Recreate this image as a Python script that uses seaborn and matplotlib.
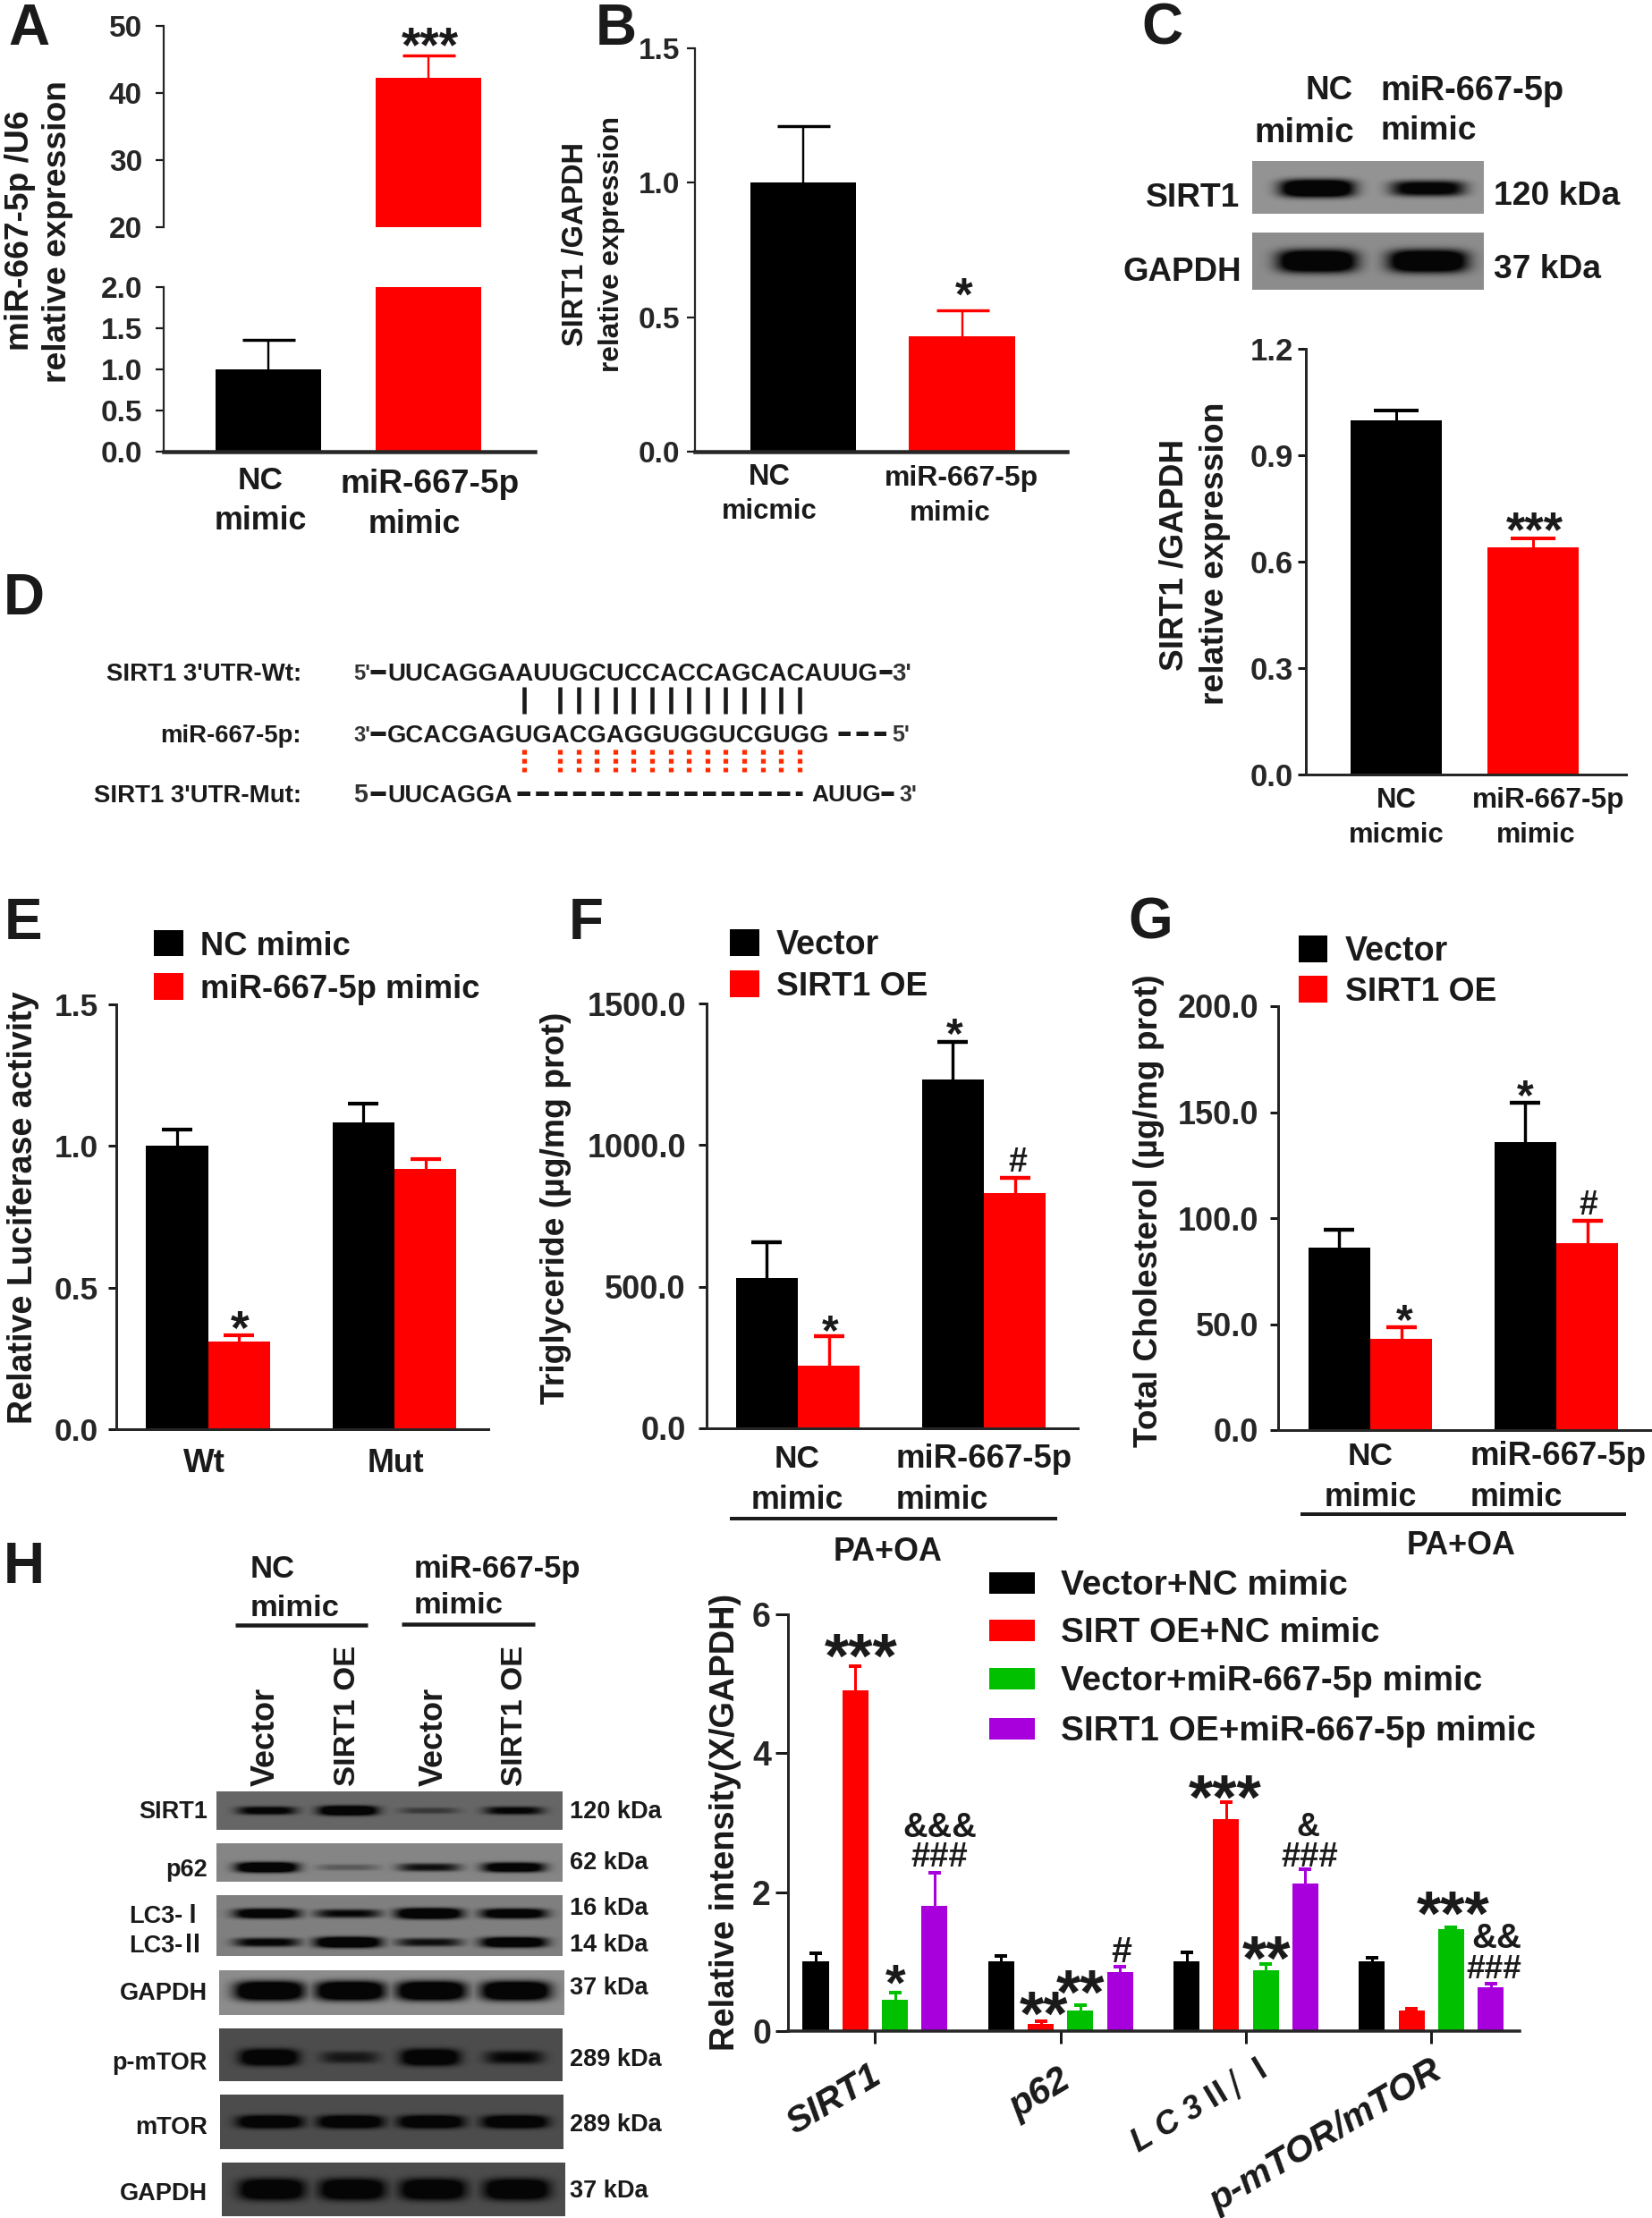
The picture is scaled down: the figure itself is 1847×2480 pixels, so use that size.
import numpy as np, pandas as pd
import matplotlib
matplotlib.use('Agg')
import matplotlib.pyplot as plt
from matplotlib.patches import Rectangle
import seaborn as sns

# ---------- data ----------
A_cats = ['NC mimic', 'miR-667-5p mimic']; A_vals = [1.0, 42.3]; A_tops = [1.36, 45.6]
B_cats = ['NC micmic', 'miR-667-5p mimic']; B_vals = [1.0, 0.43]; B_tops = [1.21, 0.525]
C_cats = ['NC micmic', 'miR-667-5p mimic']; C_vals = [0.9975, 0.641]; C_tops = [1.026, 0.666]
E_cats = ['Wt', 'Mut']; E_hues = ['NC mimic', 'miR-667-5p mimic']
E_vals = [[1.0, 1.084], [0.31, 0.919]]; E_tops = [[1.057, 1.151], [0.332, 0.955]]
FG_cats = ['NC mimic', 'miR-667-5p mimic']; FG_hues = ['Vector', 'SIRT1 OE']
F_vals = [[531, 1232], [220, 831]]; F_tops = [[657, 1365], [324, 883]]
G_vals = [[86, 135.7], [43, 88]]; G_tops = [[94.6, 154.6], [48.5, 98.9]]
H_cats = ['SIRT1', 'p62', 'LC3', 'p-mTOR/mTOR']
H_hues = ['Vector+NC mimic', 'SIRT OE+NC mimic', 'Vector+miR-667-5p mimic', 'SIRT1 OE+miR-667-5p mimic']
H_vals = [[1.0, 1.0, 1.0, 1.0], [4.9, 0.1, 3.05, 0.3], [0.45, 0.3, 0.87, 1.47], [1.8, 0.85, 2.12, 0.63]]
H_tops = [[1.12, 1.08, 1.13, 1.05], [5.25, 0.14, 3.3, 0.32], [0.55, 0.37, 0.96, 1.5], [2.28, 0.93, 2.33, 0.68]]
BLACK, RED, GREEN, PURPLE = '#000000', '#FF0000', '#00C000', '#A800DC'
# blot band strengths per lane
C_sirt1 = [1.0, 0.75]; C_gapdh = [1.0, 1.0]
H_sirt1 = [0.7, 1.0, 0.28, 0.65]; H_p62 = [0.97, 0.2, 0.55, 0.85]
H_lc1 = [0.85, 0.6, 1.0, 0.85]; H_lc2 = [0.65, 1.0, 0.55, 0.92]
H_gapdh = [1, 1, 1, 1]; H_pmtor = [1.0, 0.45, 1.0, 0.6]; H_mtor = [1, 1, 1, 1]; H_gapdh2 = [1, 1, 1, 1]

# ---------- set-up ----------
sns.set_theme(style='ticks')
FONT = ['Liberation Sans', 'Noto Sans CJK SC', 'DejaVu Sans']
CJK = ['Noto Sans CJK SC', 'DejaVu Sans']
plt.rcParams['font.family'] = FONT
plt.rcParams['font.weight'] = 'bold'
W, H = 1847, 2480
fig = plt.figure(figsize=(W / 100, H / 100), dpi=100, facecolor='white')
ov = fig.add_axes([0, 0, 1, 1], zorder=10, facecolor='none')
ov.set_axis_off(); ov.set_autoscale_on(False)
ov.set_xlim(0, W); ov.set_ylim(H, 0)
rend = fig.canvas.get_renderer()

def T(x, y, s, size=24, w=None, ha='center', rot=0, kind='cap', color='k', style='normal', family=None):
    t = ov.text(x, y, s, fontsize=size, ha=ha, va='baseline', rotation=0, rotation_mode='anchor',
                color=color, fontstyle=style, fontweight='bold', family=family or FONT)
    if w:
        size = size * w / t.get_window_extent(rend).width
        t.set_fontsize(size)
    em = size * 100 / 72
    off = (0.45 if kind == 'star' else 0.358) * em
    th = np.deg2rad(rot)
    t.set_position((x + np.sin(th) * off, y + np.cos(th) * off))
    t.set_rotation(rot)
    return t

def L(x0, x1, y0, y1, lw=3, color='k', **k):
    ov.plot([x0, x1], [y0, y1], color=color, lw=lw * 0.72, solid_capstyle='butt', **k)

def box_ax(x0, y0, x1, y1):
    return fig.add_axes([x0 / W, 1 - y1 / H, (x1 - x0) / W, (y1 - y0) / H], facecolor='none')

def style(ax, left, right, c0, step, ylim, ticks, labels, size, pad, lw=2.2, blw=None, ticklen=9, bottom=True):
    ax.set_xlim((left - c0) / step, (right - c0) / step)
    ax.set_ylim(*ylim)
    ax.set_yticks(ticks); ax.set_yticklabels(labels)
    ax.tick_params(axis='y', length=ticklen * 0.72, width=lw * 0.72, pad=pad * 0.72, labelsize=size, color='k')
    ax.tick_params(axis='x', bottom=False, labelbottom=False, length=0)
    ax.set_xlabel(''); ax.set_ylabel('')
    for s in ['top', 'right']:
        ax.spines[s].set_visible(False)
    ax.spines['left'].set_linewidth(lw * 0.72)
    ax.spines['bottom'].set_linewidth((blw or lw) * 0.72)
    ax.spines['bottom'].set_visible(bottom)
    for lab in ax.get_yticklabels():
        lab.set_fontweight('bold')

def errs(ax, tops, colors, cap, lw):
    """Upper error bars, x taken from the bars seaborn drew; only the upper cap is shown."""
    for cont, tp, col in zip(ax.containers, tops, colors):
        for bar, top in zip(cont, tp):
            x = bar.get_x() + bar.get_width() / 2
            y = bar.get_height()
            eb = ax.errorbar([x], [y], yerr=[[0], [top - y]], color=col, capsize=cap / 2 * 0.72,
                             elinewidth=lw * 0.72, capthick=(lw + 1) * 0.72, zorder=1)
            eb[1][0].set_visible(False)

def bars(ax, cats, hues, vals, colors, width, gap=0):
    rows = [(c, h, vals[i][j]) for i, h in enumerate(hues) for j, c in enumerate(cats)]
    df = pd.DataFrame(rows, columns=['cat', 'hue', 'val'])
    sns.barplot(data=df, x='cat', y='val', hue='hue', order=cats, hue_order=hues,
                palette=dict(zip(hues, colors)), width=width, gap=gap, saturation=1,
                errorbar=None, legend=False, linewidth=0, ax=ax, zorder=2)

def single(ax, cats, vals, colors, width):
    df = pd.DataFrame({'cat': cats, 'val': vals})
    sns.barplot(data=df, x='cat', y='val', hue='cat', order=cats, hue_order=cats, dodge=False,
                palette=dict(zip(cats, colors)), width=width, saturation=1,
                errorbar=None, legend=False, linewidth=0, ax=ax, zorder=2)

def blot(x0, y0, x1, y1, bg, lanes, rows, hw):
    """rows: list of (y fraction, half height fraction, strengths)."""
    n, m = max(int(y1 - y0), 2), max(int(x1 - x0), 2)
    xx, yy = np.meshgrid(np.linspace(0, 1, m), np.linspace(0, 1, n))
    dark = np.zeros_like(xx)
    for yc, hh, st in rows:
        for xc, s in zip(lanes, st):
            dark = np.maximum(dark, s * np.exp(-(np.abs(xx - xc) / hw) ** 4) *
                              np.exp(-(np.abs(yy - yc) / (hh * (0.5 + 0.5 * s))) ** 3))
    dark = np.clip(dark * 1.7, 0, 1)
    img = bg * (1 - dark) + 0.02 * dark
    ov.imshow(img, extent=(x0, x1, y1, y0), cmap='gray', vmin=0, vmax=1, aspect='auto',
              interpolation='bilinear', zorder=1)

# ---------- panel letters ----------
for s, x, y in [('A', 32, 27), ('B', 689, 27), ('C', 1299, 27), ('D', 27, 664), ('E', 26, 1027),
                ('F', 655, 1027), ('G', 1286, 1027), ('H', 27, 1747)]:
    T(x, y, s, size=46)

# ---------- A ----------
for box, yl, tk, lb, bot in [((183, 29, 598, 254), (20, 50), [20, 30, 40, 50], ['20', '30', '40', '50'], False),
                             ((183, 321, 598, 505), (0, 2), [0, .5, 1, 1.5, 2], ['0.0', '0.5', '1.0', '1.5', '2.0'], True)]:
    ax = box_ax(*box)
    single(ax, A_cats, A_vals, [BLACK, RED], 0.659)
    errs(ax, [[A_tops[0]], [A_tops[1]]], [BLACK, RED], 59, 2.4)
    style(ax, 183, 598, 300, 179, yl, tk, lb, 24, 15, lw=2.2, blw=4.5, bottom=bot)
T(19, 258, 'miR-667-5p /U6', w=269, rot=90)
T(61, 259, 'relative expression', w=338, rot=90)
T(481, 43, '***', w=65, kind='star')
T(291, 534, 'NC', w=51); T(291, 579, 'mimic', w=104)
T(481, 538, 'miR-667-5p', w=201); T(463, 583, 'mimic', w=104)

# ---------- B ----------
ax = box_ax(777, 54, 1193, 505)
single(ax, B_cats, B_vals, [BLACK, RED], 0.665)
errs(ax, [[B_tops[0]], [B_tops[1]]], [BLACK, RED], 59, 2.4)
style(ax, 777, 1193, 898, 177.5, (0, 1.5), [0, .5, 1, 1.5], ['0.0', '0.5', '1.0', '1.5'], 24, 8, lw=2.2, blw=4.5)
T(640, 273, 'SIRT1 /GAPDH', w=229, rot=90)
T(681, 273, 'relative expression', w=286, rot=90)
T(1078, 324, '*', w=20, kind='star')
T(860, 530, 'NC', w=47); T(860, 569, 'micmic', w=107)
T(1075, 532, 'miR-667-5p', w=173); T(1062, 571, 'mimic', w=91)

# ---------- C ----------
lanes = [0.28, 0.76]
blot(1400, 180, 1659, 239, 0.58, lanes, [(0.52, 0.17, C_sirt1)], 0.16)
blot(1400, 260, 1659, 324, 0.55, lanes, [(0.5, 0.2, C_gapdh)], 0.17)
T(1513, 98, 'NC', w=53, ha='right'); T(1514, 145, 'mimic', w=112, ha='right')
T(1543, 98, 'miR-667-5p', w=206, ha='left'); T(1543, 143, 'mimic', w=108, ha='left')
T(1386, 218, 'SIRT1', w=105, ha='right'); T(1388, 301, 'GAPDH', w=133, ha='right')
T(1670, 216, '120 kDa', w=142, ha='left'); T(1670, 298, '37 kDa', w=120, ha='left')
ax = box_ax(1460, 390, 1818, 866)
single(ax, C_cats, C_vals, [BLACK, RED], 0.667)
errs(ax, [[C_tops[0]], [C_tops[1]]], [BLACK, RED], 50, 3)
style(ax, 1460, 1818, 1561, 153, (0, 1.2), [0, .3, .6, .9, 1.2], ['0.0', '0.3', '0.6', '0.9', '1.2'], 25, 5, lw=3, blw=3)
T(1309, 620, 'SIRT1 /GAPDH', w=259, rot=90)
T(1355, 619, 'relative expression', w=340, rot=90)
T(1716, 585, '***', w=65, kind='star')
T(1561, 892, 'NC', w=45); T(1561, 931, 'micmic', w=107)
T(1731, 892, 'miR-667-5p', w=171); T(1717, 931, 'mimic', w=89)

# ---------- D ----------
T(337, 751, "SIRT1 3'UTR-Wt:", w=219, ha='right')
T(337, 820, 'miR-667-5p:', w=158, ha='right')
T(337, 887, "SIRT1 3'UTR-Mut:", w=233, ha='right')
for y in (751, 820, 887):
    L(414, 431, y, y, lw=5)
T(395, 751, "5'", w=19, ha='left', color='#333333'); T(395, 820, "3'", w=19, ha='left', color='#333333')
T(395, 887, '5', w=16, ha='left', color='#333333')
T(433, 751, 'UUCAGGAAUUGCUCCACCAGCACAUUG', w=549, ha='left')
T(433, 820, 'GCACGAGUGACGAGGUGGUCGUGG', w=497, ha='left')
T(433, 887, 'UUCAGGA', w=140, ha='left'); T(907, 887, 'AUUG', w=78, ha='left')
L(983, 997, 751, 751, lw=5); T(997, 751, "3'", w=22, ha='left', color='#333333')
T(997, 820, "5'", w=20, ha='left', color='#333333')
T(1005, 887, "3'", w=20, ha='left', color='#333333')
L(985, 999, 887, 887, lw=5)
ov.plot([937, 991], [820, 820], color='k', lw=3.6, linestyle=(0, (2.7, 1.3)), dash_capstyle='butt')
ov.plot([578, 897], [887, 887], color='k', lw=3.6, linestyle=(0, (2.9, 1.25)), dash_capstyle='butt')
pair_x = [586] + [626 + i * 20.6 for i in range(14)]
for x in pair_x:
    L(x, x, 768, 798, lw=4.6)
    ov.plot([x, x], [838, 863], color='#FF2A00', lw=3.8, linestyle=(0, (1.0, 0.9)), dash_capstyle='butt')

# ---------- E ----------
def legend2(x0, x1, rows, tx, names, ws):
    for (y0, y1), c, n, wd in zip(rows, [BLACK, RED], names, ws):
        ov.add_patch(Rectangle((x0, y0), x1 - x0, y1 - y0, color=c, lw=0))
        T(tx, (y0 + y1) / 2, n, w=wd, ha='left')

ax = box_ax(130, 1123, 546, 1598)
bars(ax, E_cats, E_hues, E_vals, [BLACK, RED], 0.663)
errs(ax, E_tops, [BLACK, RED], 34, 3.2)
style(ax, 130, 546, 232.5, 208.5, (0, 1.5), [0, .5, 1, 1.5], ['0.0', '0.5', '1.0', '1.5'], 25.5, 11, lw=3, blw=3)
legend2(172, 204.5, [(1040, 1069), (1088, 1117.5)], 224, E_hues, [168, 314])
T(23, 1350, 'Relative Luciferase activity', w=484, rot=90)
T(268, 1479, '*', w=21, kind='star')
T(228, 1633, 'Wt', w=47); T(442, 1633, 'Mut', w=64)

# ---------- F ----------
ax = box_ax(790, 1122, 1205, 1597)
bars(ax, FG_cats, FG_hues, F_vals, [BLACK, RED], 0.6635)
errs(ax, F_tops, [BLACK, RED], 34, 3.4)
style(ax, 790, 1205, 892, 208, (0, 1500), [0, 500, 1000, 1500], ['0.0', '500.0', '1000.0', '1500.0'], 26, 14, lw=3, blw=3)
legend2(816, 849, [(1039, 1069), (1085, 1115)], 868, FG_hues, [115, 169])
T(618, 1351, 'Triglyceride (µg/mg prot)', w=439, rot=90)
T(1067, 1149, '*', w=19, kind='star'); T(928, 1481, '*', w=19, kind='star'); T(1138, 1297, '#', w=21)
T(891, 1628, 'NC', w=51); T(891, 1674, 'mimic', w=104)
T(1002, 1628, 'miR-667-5p', w=198, ha='left'); T(1002, 1674, 'mimic', w=104, ha='left')
L(816, 1182, 1698, 1698, lw=4); T(993, 1732, 'PA+OA', w=122)

# ---------- G ----------
ax = box_ax(1429, 1125, 1846, 1599)
bars(ax, FG_cats, FG_hues, G_vals, [BLACK, RED], 0.6635)
errs(ax, G_tops, [BLACK, RED], 34, 3.4)
style(ax, 1429, 1846, 1532, 208, (0, 200), [0, 50, 100, 150, 200], ['0.0', '50.0', '100.0', '150.0', '200.0'], 26, 13, lw=3, blw=3)
legend2(1452, 1484, [(1046, 1076), (1091, 1121)], 1504, FG_hues, [115, 169])
T(1281, 1354, 'Total Cholesterol (µg/mg prot)', w=528, rot=90)
T(1705, 1218, '*', w=19, kind='star'); T(1570, 1469, '*', w=19, kind='star'); T(1776, 1345, '#', w=21)
T(1532, 1625, 'NC', w=51); T(1532, 1671, 'mimic', w=104)
T(1644, 1625, 'miR-667-5p', w=198, ha='left'); T(1644, 1671, 'mimic', w=104, ha='left')
L(1454, 1818, 1693, 1693, lw=4); T(1634, 1725, 'PA+OA', w=122)

# ---------- H blots ----------
lanesH = [0.145, 0.38, 0.615, 0.86]
blot(242, 2003, 629, 2046, 0.40, lanesH, [(0.5, 0.13, H_sirt1)], 0.085)
blot(242, 2061, 629, 2104, 0.52, lanesH, [(0.63, 0.14, H_p62)], 0.09)
blot(242, 2119, 629, 2187, 0.50, lanesH, [(0.3, 0.09, H_lc1), (0.78, 0.09, H_lc2)], 0.095)
blot(245, 2203, 631, 2253, 0.55, lanesH, [(0.46, 0.22, H_gapdh)], 0.1)
blot(245, 2268, 629, 2327, 0.30, lanesH, [(0.55, 0.16, H_pmtor)], 0.085)
blot(246, 2342, 630, 2403, 0.30, lanesH, [(0.5, 0.12, H_mtor)], 0.095)
blot(248, 2418, 632, 2478, 0.30, lanesH, [(0.5, 0.2, H_gapdh2)], 0.095)
for s, y in [('SIRT1', 2023), ('p62', 2088), ('GAPDH', 2226), ('p-mTOR', 2304), ('mTOR', 2376), ('GAPDH', 2450)]:
    T(232, y, s, size=19.5, ha='right')
T(204, 2140, 'LC3-', size=19.5, ha='right'); T(229, 2140, 'Ⅰ', size=19.5, ha='right', family=CJK)
T(204, 2173, 'LC3-', size=19.5, ha='right'); T(229, 2173, 'Ⅱ', size=19.5, ha='right', family=CJK)
for s, y in [('120 kDa', 2023), ('62 kDa', 2080), ('16 kDa', 2131), ('14 kDa', 2172), ('37 kDa', 2220),
             ('289 kDa', 2300), ('289 kDa', 2373), ('37 kDa', 2447)]:
    T(637, y, s, size=19.5, ha='left')
T(280, 1752, 'NC', w=50, ha='left'); T(280, 1795, 'mimic', w=100, ha='left')
T(463, 1752, 'miR-667-5p', w=187, ha='left'); T(463, 1792, 'mimic', w=100, ha='left')
L(263, 411, 1817, 1817, lw=4.5); L(449, 598, 1816, 1816, lw=4.5)
for x, s, wd in [(294, 'Vector', 110), (385, 'SIRT1 OE', 157), (482, 'Vector', 110), (572, 'SIRT1 OE', 157)]:
    T(x, 1997, s, w=wd, ha='left', rot=90)

# ---------- H chart ----------
ax = box_ax(881, 1805, 1699, 2271)
bars(ax, H_cats, H_hues, H_vals, [BLACK, RED, GREEN, PURPLE], 0.855, gap=0.34)
errs(ax, H_tops, [BLACK, RED, GREEN, PURPLE], 14, 3)
style(ax, 881, 1699, 978.4, 207.3, (0, 6), [0, 2, 4, 6], ['0', '2', '4', '6'], 27, 5, lw=3, blw=3.5, ticklen=14)
ax.set_xticks(range(4)); ax.set_xticklabels([])
ax.tick_params(axis='x', bottom=True, length=14 * 0.72, width=3 * 0.72, labelbottom=False, color='k')
T(807, 2037, 'Relative intensity(X/GAPDH)', w=512, rot=90)
for (y0, y1), c, n, wd, y in zip([(1758, 1782), (1811, 1835), (1865, 1889), (1921, 1945)],
                                 [BLACK, RED, GREEN, PURPLE], H_hues, [321, 357, 473, 532],
                                 [1769, 1822, 1876, 1932]):
    ov.add_patch(Rectangle((1106, y0), 51, y1 - y0, color=c, lw=0))
    T(1186, y, n, w=wd, ha='left')
for s, x, y, wd in [('SIRT1', 931, 2345, 116), ('p62', 1161, 2338, 72), ('L C 3', 1304, 2373, 88),
                    ('p-mTOR/mTOR', 1481, 2385, 296)]:
    T(x, y, s, w=wd, rot=31, style='italic')
T(1384, 2326, 'Ⅱ/ Ⅰ', w=92, rot=31, family=CJK)
for s, x, y, wd, k in [('***', 963, 1844, 83, 'star'), ('*', 1001, 2210, 23, 'star'), ('&&&', 1051, 2040, 83, 'cap'),
                       ('###', 1050, 2073, 64, 'cap'), ('#', 1254, 2179, 23, 'cap'), ('**', 1167, 2244, 55, 'star'),
                       ('**', 1208, 2220, 55, 'star'), ('***', 1370, 2002, 83, 'star'), ('**', 1416, 2182, 55, 'star'),
                       ('&', 1462, 2040, 26, 'cap'), ('###', 1464, 2073, 64, 'cap'), ('***', 1625, 2132, 83, 'star'),
                       ('&&', 1673, 2164, 56, 'cap'), ('###', 1670, 2199, 62, 'cap')]:
    T(x, y, s, w=wd, kind=k)

ov.set_xlim(0, W); ov.set_ylim(H, 0)
fig.savefig('out.png', dpi=100, facecolor='white')
